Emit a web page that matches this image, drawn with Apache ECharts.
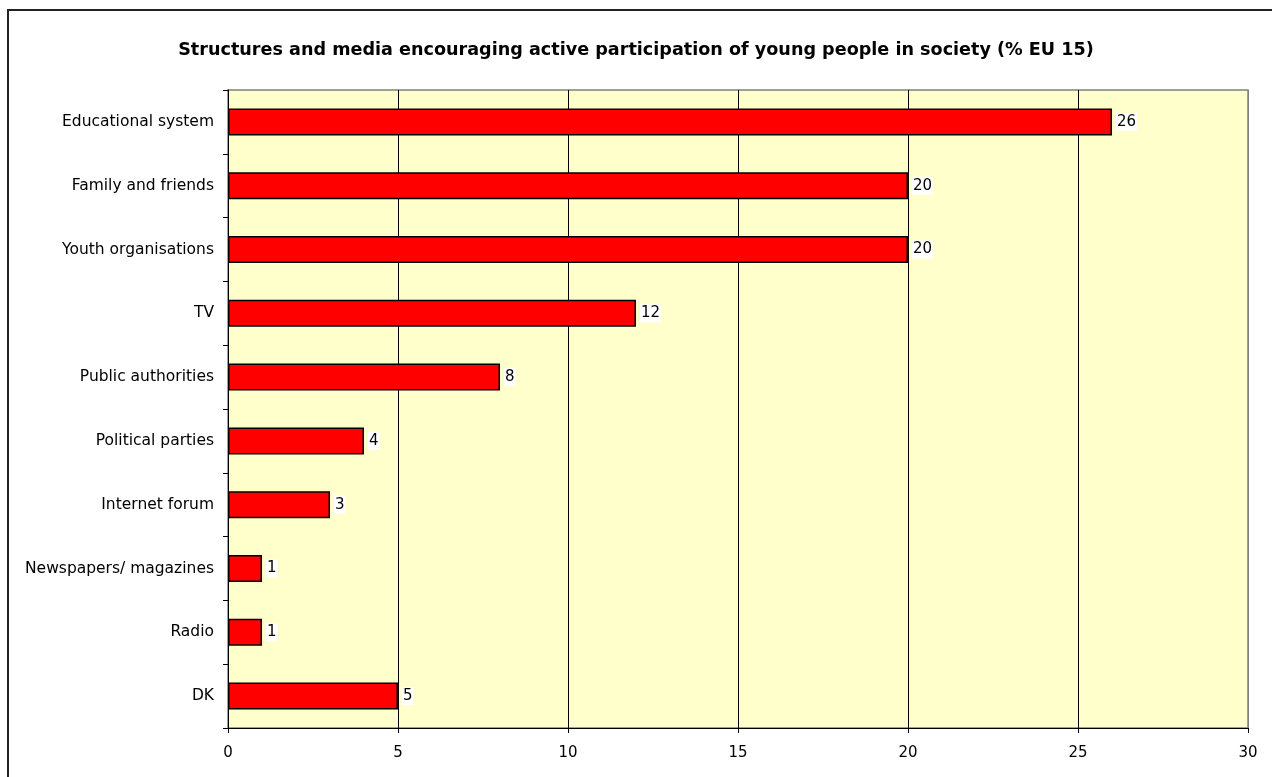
<!DOCTYPE html>
<html>
<head>
<meta charset="utf-8">
<script src="https://cdn.jsdelivr.net/npm/echarts@6/dist/echarts.min.js"></script>
<style>
html,body{margin:0;padding:0;background:#fff;}
#chart{width:1272px;height:777px;}
</style>
</head>
<body>
<div id="chart"></div>
<script>
const titleText = 'Structures and media encouraging active participation of young people in society (% EU 15)';
const categories = ['Educational system','Family and friends','Youth organisations','TV','Public authorities','Political parties','Internet forum','Newspapers/ magazines','Radio','DK'];
const values = [26, 20, 20, 12, 8, 4, 3, 1, 1, 5];
const xTicks = { min: 0, max: 30, interval: 5 };

const chart = echarts.init(document.getElementById('chart'), null, {renderer: 'canvas'});
const font = '"DejaVu Sans", "Liberation Sans", sans-serif';
chart.setOption({
  animation: false,
  backgroundColor: '#ffffff',
  title: {
    text: titleText,
    left: 'center',
    top: 36,
    textStyle: { fontFamily: '"DejaVu Sans", sans-serif', fontWeight: 'bold', fontSize: 17.6, color: '#000' }
  },
  graphic: [{
    type: 'rect',
    shape: { x: 8, y: 10, width: 1400, height: 900 },
    style: { fill: 'none', stroke: '#222', lineWidth: 2 },
    silent: true
  }],
  grid: {
    left: 228, right: 24, top: 90, bottom: 49,
    show: true, backgroundColor: '#FFFFCC', borderColor: '#808080', borderWidth: 1.5
  },
  xAxis: {
    type: 'value',
    min: xTicks.min, max: xTicks.max, interval: xTicks.interval,
    axisLine: { show: true, lineStyle: { color: '#000', width: 1 } },
    axisTick: { show: true, length: 5, lineStyle: { color: '#000' } },
    axisLabel: { color: '#000', fontFamily: font, fontSize: 15, margin: 18 },
    splitLine: { show: true, lineStyle: { color: ['#000','#000','#000','#000','#000','#000','#808080'], width: 1 } }
  },
  yAxis: {
    type: 'category',
    data: categories,
    inverse: true,
    axisLine: { show: true, lineStyle: { color: '#000', width: 1 } },
    axisTick: { show: true, length: 5, lineStyle: { color: '#000' } },
    axisLabel: { color: '#000', fontFamily: font, fontSize: 15.5, margin: 14 },
    splitLine: { show: false }
  },
  series: [{
    type: 'bar',
    data: values,
    barWidth: 27,
    itemStyle: { color: '#FF0000', borderColor: '#000', borderWidth: 1.5 },
    label: {
      show: true, position: 'right', distance: 4,
      color: '#000', fontFamily: font, fontSize: 15,
      backgroundColor: '#fff', padding: [2, 1, 1, 1]
    }
  }]
});
</script>
</body>
</html>
